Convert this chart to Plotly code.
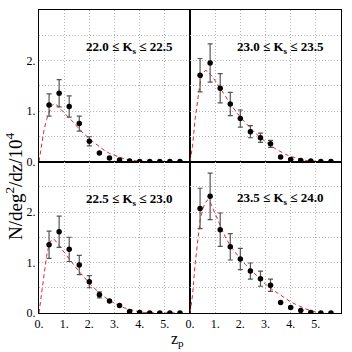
import plotly.graph_objects as go

# photometric-redshift bins (points)
z_pts = [0.4, 0.8, 1.2, 1.6, 2.0, 2.4, 2.8, 3.2, 3.6, 4.0, 4.4, 4.8, 5.2, 5.6]

n_220 = [1.12, 1.35, 1.09, 0.75, 0.40, 0.17, 0.07, 0.03, 0.01, 0.0, 0.0, 0.0, 0.0, 0.0]
e_220 = [0.22, 0.27, 0.21, 0.15, 0.09, None, None, None, None, None, None, None, None, None]

n_230 = [1.71, 1.95, 1.45, 1.14, 0.85, 0.59, 0.47, 0.35, 0.09, 0.04, 0.02, 0.01, 0.0, 0.0]
e_230 = [0.33, 0.38, 0.29, 0.23, 0.17, 0.12, 0.09, 0.07, None, None, None, None, None, None]

n_225 = [1.35, 1.61, 1.26, 0.95, 0.62, 0.36, 0.24, 0.15, 0.03, 0.01, 0.0, 0.0, 0.0, 0.0]
e_225 = [0.27, 0.31, 0.24, 0.19, 0.12, 0.06, None, None, None, None, None, None, None, None]

n_235 = [2.07, 2.31, 1.65, 1.31, 1.07, 0.83, 0.68, 0.55, 0.21, 0.11, 0.05, 0.01, 0.0, 0.0]
e_235 = [0.40, 0.46, 0.33, 0.26, 0.21, 0.16, 0.15, 0.12, None, None, None, None, None, None]

# model curves (red dashed)
z_mod = [0.0, 0.1, 0.2, 0.3, 0.4, 0.5, 0.6, 0.7, 0.8, 0.9, 1.0, 1.2, 1.4, 1.6, 1.8,
         2.0, 2.2, 2.4, 2.6, 2.8, 3.0, 3.2, 3.4, 3.6, 3.8, 4.0, 4.2, 4.4, 4.6, 4.8,
         5.0, 5.2, 5.4]
m_220 = [0.0, 0.35, 0.62, 0.83, 0.97, 1.10, 1.15, 1.12, 1.07, 1.02, 0.97, 0.87, 0.76,
         0.64, 0.54, 0.45, 0.37, 0.29, 0.22, 0.16, 0.12, 0.08, 0.05, 0.03, 0.015, 0.005,
         0.0, 0.0, 0.0, 0.0, 0.0, 0.0, 0.0]
m_230 = [0.0, 0.30, 0.83, 1.25, 1.55, 1.73, 1.80, 1.79, 1.74, 1.67, 1.60, 1.46, 1.30,
         1.14, 1.00, 0.88, 0.77, 0.66, 0.56, 0.47, 0.39, 0.32, 0.25, 0.19, 0.14, 0.10,
         0.07, 0.04, 0.02, 0.01, 0.0, 0.0, 0.0]
m_225 = [0.0, 0.35, 0.78, 1.12, 1.36, 1.45, 1.46, 1.41, 1.34, 1.27, 1.20, 1.07, 0.94,
         0.82, 0.70, 0.59, 0.49, 0.40, 0.32, 0.25, 0.19, 0.14, 0.10, 0.07, 0.04, 0.02,
         0.01, 0.0, 0.0, 0.0, 0.0, 0.0, 0.0]
m_235 = [0.0, 0.35, 0.95, 1.45, 1.83, 2.05, 2.18, 2.24, 2.20, 2.08, 1.97, 1.72, 1.51,
         1.33, 1.19, 1.07, 0.96, 0.86, 0.76, 0.66, 0.57, 0.49, 0.42, 0.35, 0.28, 0.22,
         0.17, 0.12, 0.08, 0.05, 0.02, 0.01, 0.0]

labels = ["22.0 ≤ K<sub>s</sub> ≤ 22.5", "23.0 ≤ K<sub>s</sub> ≤ 23.5",
          "22.5 ≤ K<sub>s</sub> ≤ 23.0", "23.5 ≤ K<sub>s</sub> ≤ 24.0"]

x_ticks = [0, 1, 2, 3, 4, 5]
x_text = ["0.", "1.", "2.", "3.", "4.", "5."]
y_ticks = [0, 1, 2]
y_text = ["0.", "1.", "2."]

FONT = "Liberation Serif, Times New Roman, serif"
GRID = "#b4b4b4"
W = 352.0

panels = [
    (n_220, e_220, m_220, labels[0], [39 / W, 190 / W], [1 - 161.5 / W, 1 - 10 / W], True, False),
    (n_230, e_230, m_230, labels[1], [190 / W, 341 / W], [1 - 161.5 / W, 1 - 10 / W], False, False),
    (n_225, e_225, m_225, labels[2], [39 / W, 190 / W], [1 - 313 / W, 1 - 161.5 / W], True, True),
    (n_235, e_235, m_235, labels[3], [190 / W, 341 / W], [1 - 313 / W, 1 - 161.5 / W], False, True),
]
label_pos = [(129, 47), (280, 47), (129, 199), (280, 198)]

fig = go.Figure()
layout = {}
for i, (n, e, m, lab, dx, dy, ylab, xlab) in enumerate(panels):
    k = "" if i == 0 else str(i + 1)
    fig.add_trace(go.Scatter(
        x=z_mod, y=m, mode="lines", xaxis="x" + k, yaxis="y" + k,
        line=dict(color="#e3242b", width=1, dash="4px,3px"), hoverinfo="skip",
    ))
    fig.add_trace(go.Scatter(
        x=z_pts, y=n, mode="markers", xaxis="x" + k, yaxis="y" + k,
        marker=dict(color="black", size=5.5),
        error_y=dict(type="data", array=e, color="#555555", thickness=1.2, width=2.5),
    ))
    layout["xaxis" + k] = dict(
        domain=dx, anchor="y" + k, range=[0, 6], tickvals=x_ticks, ticktext=x_text,
        showticklabels=xlab, ticks="", showgrid=True, gridcolor=GRID, griddash="1px,2px",
        gridwidth=1, zeroline=True, zerolinecolor="black", zerolinewidth=2,
        showline=True, linecolor="black", linewidth=1, mirror=True, automargin=False,
        tickfont=dict(family=FONT, size=12, color="black"),
    )
    layout["yaxis" + k] = dict(
        domain=dy, anchor="x" + k, range=[0, 3], tickvals=y_ticks, ticktext=y_text,
        showticklabels=ylab, ticks="", showgrid=True, gridcolor=GRID, griddash="1px,2px",
        gridwidth=1, zeroline=True, zerolinecolor="black", zerolinewidth=2,
        showline=True, linecolor="black", linewidth=1, mirror=True, automargin=False,
        minor=dict(dtick=0.5, showgrid=True, gridcolor=GRID, griddash="1px,2px", gridwidth=1),
        tickfont=dict(family=FONT, size=12, color="black"),
    )

annotations = []
for lab, (px, py) in zip(labels, label_pos):
    annotations.append(dict(
        text="<b>" + lab + "</b>", x=px / W, y=1 - py / W, xref="paper", yref="paper",
        xanchor="center", yanchor="middle", showarrow=False,
        font=dict(family=FONT, size=13, color="black"),
    ))
annotations.append(dict(
    text="N/deg<sup>2</sup>/dz/10<sup>4</sup>", x=14 / W, y=1 - 186 / W,
    xref="paper", yref="paper", xanchor="center", yanchor="middle",
    showarrow=False, textangle=-90,
    font=dict(family=FONT, size=19, color="black"),
))
annotations.append(dict(
    text="z<sub>p</sub>", x=177 / W, y=1 - 339 / W, xref="paper", yref="paper",
    xanchor="center", yanchor="middle", showarrow=False,
    font=dict(family=FONT, size=16, color="black"),
))

fig.update_layout(
    width=352, height=352, margin=dict(l=0, r=0, t=0, b=0, autoexpand=False),
    paper_bgcolor="white", plot_bgcolor="white", showlegend=False,
    annotations=annotations, **layout,
)
fig.write_html("out.html", config={"displayModeBar": False},
               post_script="document.body.style.margin='0';")
